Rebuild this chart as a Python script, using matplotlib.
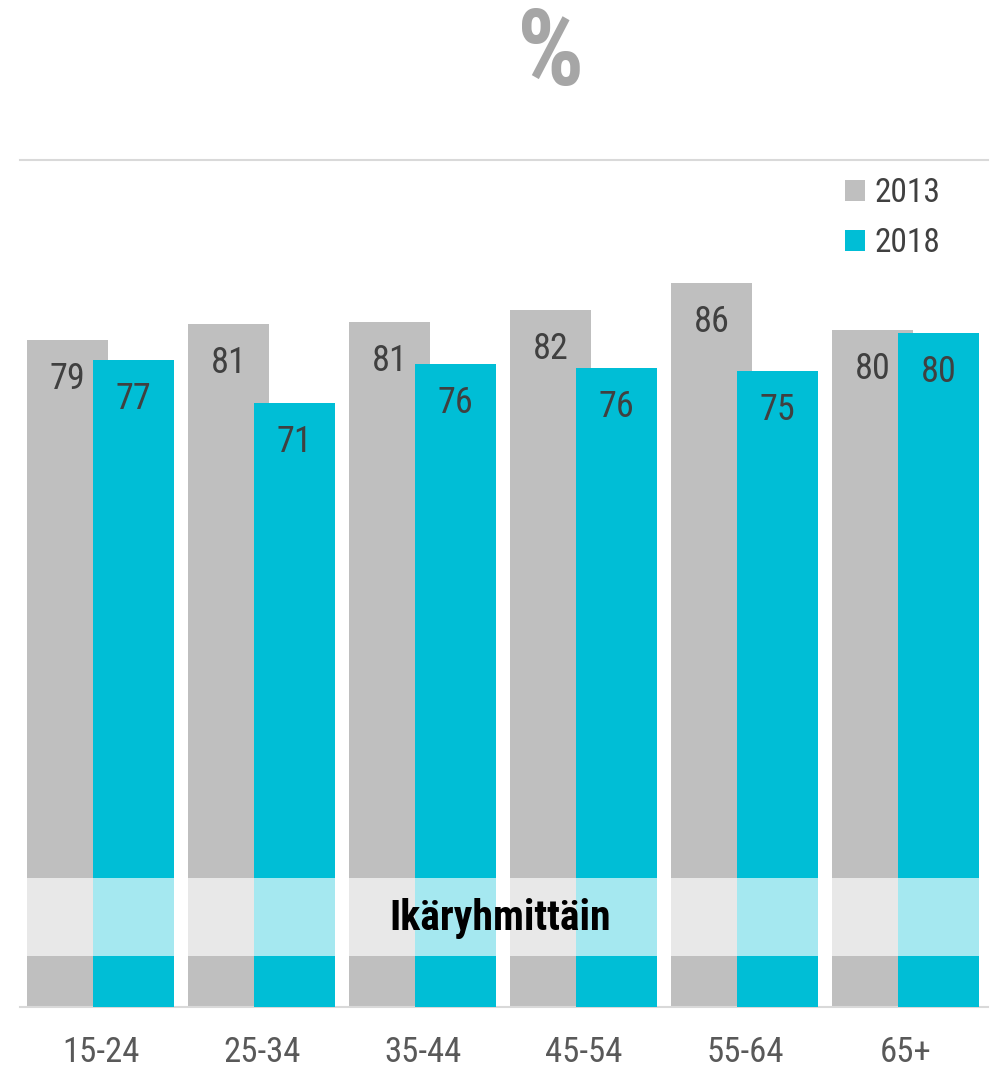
import matplotlib
matplotlib.use("Agg")
import matplotlib.pyplot as plt
from matplotlib import font_manager as fm
import numpy as np

# a narrow sans if one is installed, otherwise condensed DejaVu / plain DejaVu
names = {f.name for f in fm.fontManager.ttflist}
narrow = [n for n in ['Liberation Sans Narrow', 'Roboto Condensed', 'Open Sans Condensed',
                      'DejaVu Sans Condensed', 'Noto Sans Condensed'] if n in names]
plt.rcParams['font.family'] = narrow + ['DejaVu Sans']
plt.rcParams['font.stretch'] = 'condensed'

# data
groups = ['15-24', '25-34', '35-44', '45-54', '55-64', '65+']
vals_2013 = [78.7, 80.6, 80.9, 82.3, 85.5, 79.9]
vals_2018 = [76.4, 71.3, 75.9, 75.4, 75.1, 79.6]
labels_2013 = ['79', '81', '81', '82', '86', '80']
labels_2018 = ['77', '71', '76', '76', '75', '80']
series = ['2013', '2018']

gray = '#bfbfbf'
cyan = '#00bed6'
txt = '#404040'

fig = plt.figure(figsize=(9.92, 10.73), dpi=100)
ax = fig.add_axes([20/992, 66/1073, 968/992, (1007-160)/1073])

x = np.arange(len(groups))
w = 0.503
off = 0.205
b1 = ax.bar(x - off, vals_2013, w, color=gray, label=series[0], zorder=2)
b2 = ax.bar(x + off, vals_2018, w, color=cyan, label=series[1], zorder=3)

for bars, labs, z in [(b1, labels_2013, 2.5), (b2, labels_2018, 3.5)]:
    for rect, lab in zip(bars, labs):
        ax.annotate(lab, (rect.get_x() + rect.get_width()/2, rect.get_height()),
                    xytext=(0, -28), textcoords='offset points',
                    ha='center', va='center', fontsize=26, color=txt, zorder=z)

# light band with the group caption
ax.axhspan(6.0, 15.2, color='white', alpha=0.65, lw=0, zorder=4)
ax.text(2.48, 10.5, 'Ikäryhmittäin', ha='center', va='center',
        fontsize=30, fontweight='bold', color='black', zorder=5)

ax.set_xlim(-0.5, 5.51)
ax.set_ylim(0, 100)
ax.set_yticks([])
ax.set_xticks(x)
ax.set_xticklabels(groups, fontsize=25, color='#595959')
ax.tick_params(axis='x', length=0, pad=21)
for s in ['left', 'right']:
    ax.spines[s].set_visible(False)
for s in ['top', 'bottom']:
    ax.spines[s].set_color('#d9d9d9')
    ax.spines[s].set_linewidth(1.5)

leg = ax.legend(loc='upper left', bbox_to_anchor=((845-20)/968, 0.98),
                frameon=False, fontsize=24, handlelength=0.6, handleheight=0.6,
                handletextpad=0.3, labelspacing=0.55, borderpad=0, borderaxespad=0)
for t in leg.get_texts():
    t.set_color(txt)

fig.text(551/992, 1 - 85/1073, '%', ha='center', va='baseline',
         fontsize=76, fontweight='bold', color='#a6a6a6')

fig.savefig('out.png', dpi=100)
